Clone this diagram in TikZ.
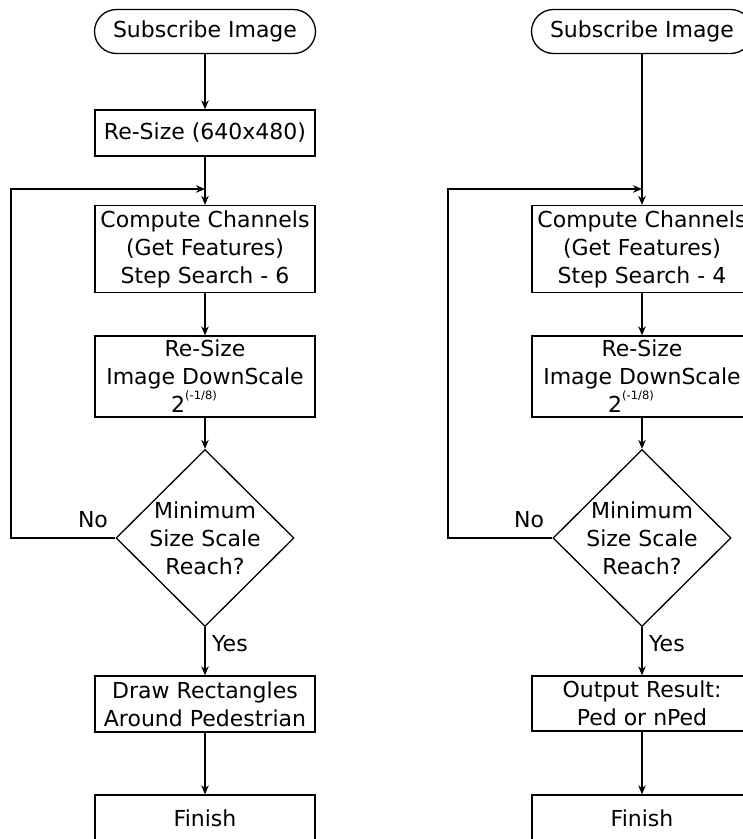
\documentclass[tikz,border=0pt]{standalone}
\usepackage{fontspec}
\setmainfont{DejaVu Sans}
\usetikzlibrary{arrows.meta,shapes.geometric}

% scale factor text: 2^(-1/8)
\newcommand\downfactor{2\raisebox{13pt}{\fontsize{11.5}{12}\selectfont(-1/8)}\hspace*{22pt}}

\begin{document}
\begin{tikzpicture}[x=1pt,y=-1pt,
  every node/.style={font=\fontsize{22}{28}\selectfont, inner sep=0pt},
  box/.style={draw, line width=1.3pt, rectangle, minimum width=220pt, align=center},
  term/.style={box, rounded corners=22pt, minimum width=221pt, minimum height=44pt},
  decision/.style={draw, line width=1.3pt, diamond, minimum width=178pt, minimum height=177pt},
  flow/.style={line width=1.3pt, -{Stealth[length=9pt,width=7.5pt]}},
  tag/.style={}
]
\useasboundingbox (0,0) rectangle (743,839);
\clip (0,0) rectangle (743,839);

% ---------- left flow ----------
\node[term] (s1) at (205,31.5) {Subscribe Image};
\node[box, minimum height=46pt] (r1) at (205,133) {Re-Size (640x480)};
\node[box, minimum height=87pt] (c1) at (205,249) {Compute Channels\\(Get Features)\\Step Search - 6};
\node[box, minimum height=81pt] (d1) at (205,376.5) {Re-Size\\Image DownScale\\\downfactor};
\node[decision, label={[align=center]center:{Minimum\\Size Scale\\Reach?}}] (q1) at (205,538) {};
\node[box, minimum height=56pt] (o1) at (205,704) {Draw Rectangles\\Around Pedestrian};
\node[box, minimum height=46pt] (f1) at (205,818) {Finish};

\coordinate (j1) at (205,189);
\coordinate (k1) at (11,189);

\draw[flow] (s1) -- (r1);
\draw[flow] (r1) -- (c1);
\draw[flow] (c1) -- (d1);
\draw[flow] (d1) -- (q1);
\draw[flow] (q1) -- (o1);
\draw[flow] (o1) -- (f1);
\draw[flow] (q1.west) -| (k1) -- (j1);

\node[tag] (no1) at (93,520) {No};
\node[tag, anchor=west] (yes1) at (212,644) {Yes};

% ---------- right flow ----------
\node[term] (s2) at (642,31.5) {Subscribe Image};
\node[box, minimum height=87pt] (c2) at (642,249) {Compute Channels\\(Get Features)\\Step Search - 4};
\node[box, minimum height=81pt] (d2) at (642,376.5) {Re-Size\\Image DownScale\\\downfactor};
\node[decision, label={[align=center]center:{Minimum\\Size Scale\\Reach?}}] (q2) at (642,538) {};
\node[box, minimum height=55pt] (o2) at (642,703.5) {Output Result:\\Ped or nPed};
\node[box, minimum height=46pt] (f2) at (642,818) {Finish};

\coordinate (j2) at (642,189);
\coordinate (k2) at (448,189);

\draw[flow] (s2) -- (c2);
\draw[flow] (c2) -- (d2);
\draw[flow] (d2) -- (q2);
\draw[flow] (q2) -- (o2);
\draw[flow] (o2) -- (f2);
\draw[flow] (q2.west) -| (k2) -- (j2);

\node[tag] (no2) at (529,520) {No};
\node[tag, anchor=west] (yes2) at (649,644) {Yes};
\end{tikzpicture}
\end{document}
